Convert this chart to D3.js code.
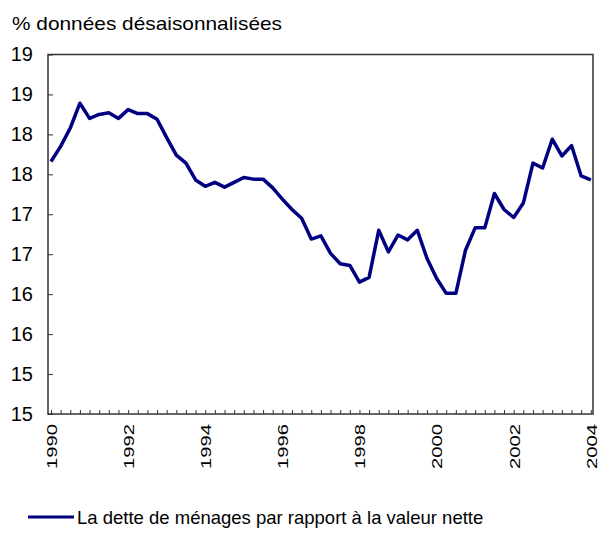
<!DOCTYPE html>
<html>
<head>
<meta charset="utf-8">
<script src="https://cdn.jsdelivr.net/npm/d3@7"></script>
<style>
  body { margin: 0; background: #fff; }
  text { font-family: "Liberation Sans", Arial, sans-serif; fill: #000; }
</style>
</head>
<body>
<script>
// Dette des ménages / valeur nette, trimestriel 1990T1 - 2004T1
const yearLabels = ["1990", "1992", "1994", "1996", "1998", "2000", "2002", "2004"];

const debtRatio = [
  18.16, 18.35, 18.58, 18.89, 18.70, 18.75, 18.77, 18.70, // 1990-1991
  18.81, 18.76, 18.76, 18.69, 18.46, 18.24, 18.14, 17.93, // 1992-1993
  17.85, 17.90, 17.84, 17.90, 17.96, 17.94, 17.94, 17.83, // 1994-1995
  17.69, 17.56, 17.45, 17.19, 17.23, 17.01, 16.88, 16.86, // 1996-1997
  16.65, 16.71, 17.30, 17.03, 17.24, 17.18, 17.30, 16.95, // 1998-1999
  16.70, 16.51, 16.51, 17.05, 17.33, 17.33, 17.76, 17.56, // 2000-2001
  17.46, 17.64, 18.14, 18.08, 18.44, 18.23, 18.36, 17.98, // 2002-2003
  17.93                                                    // 2004
];

const yTicks = [15, 15.5, 16, 16.5, 17, 17.5, 18, 18.5, 19, 19.5];
const yTickLabels = ["15", "15", "16", "16", "17", "17", "18", "18", "19", "19"];

const width = 599;
const height = 553;
const plotLeft = 48;
const plotRight = 593;
const plotTop = 54.5;
const plotBottom = 414;

const svg = d3.select("body").append("svg")
  .attr("width", width)
  .attr("height", height);

const x = d3.scaleLinear()
  .domain([0, debtRatio.length - 1])
  .range([51, 590.8]);

const y = d3.scaleLinear()
  .domain([15, 19.5])
  .range([plotBottom, plotTop]);

// Title
svg.append("text")
  .attr("x", 12)
  .attr("y", 30)
  .attr("font-size", "19px")
  .attr("textLength", 270)
  .attr("lengthAdjust", "spacingAndGlyphs")
  .text("% données désaisonnalisées");

// Y axis (ticks inward)
const yAxis = svg.append("g")
  .attr("transform", `translate(${plotLeft},0)`)
  .call(d3.axisLeft(y)
    .tickValues(yTicks)
    .tickFormat((d, i) => yTickLabels[i])
    .tickSizeInner(-5)
    .tickSizeOuter(0)
    .tickPadding(15));
yAxis.select(".domain").remove();
yAxis.selectAll("line").attr("stroke", "#333");
yAxis.selectAll("text")
  .attr("font-size", "20px")
  .attr("font-family", "Liberation Sans, Arial, sans-serif");

// X axis (quarterly ticks, labels every two years)
const xAxis = svg.append("g")
  .attr("transform", `translate(0,${plotBottom})`)
  .call(d3.axisBottom(x)
    .tickValues(d3.range(debtRatio.length))
    .tickFormat(i => i % 8 === 0 ? yearLabels[i / 8] : "")
    .tickSizeInner(-4)
    .tickSizeOuter(0));
xAxis.select(".domain").remove();
xAxis.selectAll("line").attr("stroke", "#333");
xAxis.selectAll("text")
  .attr("font-size", "15px")
  .attr("font-family", "Liberation Sans, Arial, sans-serif")
  .attr("text-anchor", "end")
  .attr("transform", "rotate(-90)")
  .attr("x", -10)
  .attr("y", 0)
  .attr("dy", "0.36em")
  .filter(function () { return this.textContent !== ""; })
  .attr("textLength", 45)
  .attr("lengthAdjust", "spacingAndGlyphs");

// Frame
svg.append("rect")
  .attr("x", plotLeft)
  .attr("y", plotTop)
  .attr("width", plotRight - plotLeft)
  .attr("height", plotBottom - plotTop)
  .attr("fill", "none")
  .attr("stroke", "#333")
  .attr("stroke-width", 1.5);

// Line
const line = d3.line()
  .x((d, i) => x(i))
  .y(d => y(d));

svg.append("path")
  .datum(debtRatio)
  .attr("fill", "none")
  .attr("stroke", "#000080")
  .attr("stroke-width", 3.5)
  .attr("stroke-linejoin", "round")
  .attr("d", line);

// Legend
svg.append("line")
  .attr("x1", 28)
  .attr("x2", 74)
  .attr("y1", 517)
  .attr("y2", 517)
  .attr("stroke", "#000080")
  .attr("stroke-width", 3);

svg.append("text")
  .attr("x", 77)
  .attr("y", 524)
  .attr("font-size", "18.5px")
  .text("La dette de ménages par rapport à la valeur nette");
</script>
</body>
</html>
